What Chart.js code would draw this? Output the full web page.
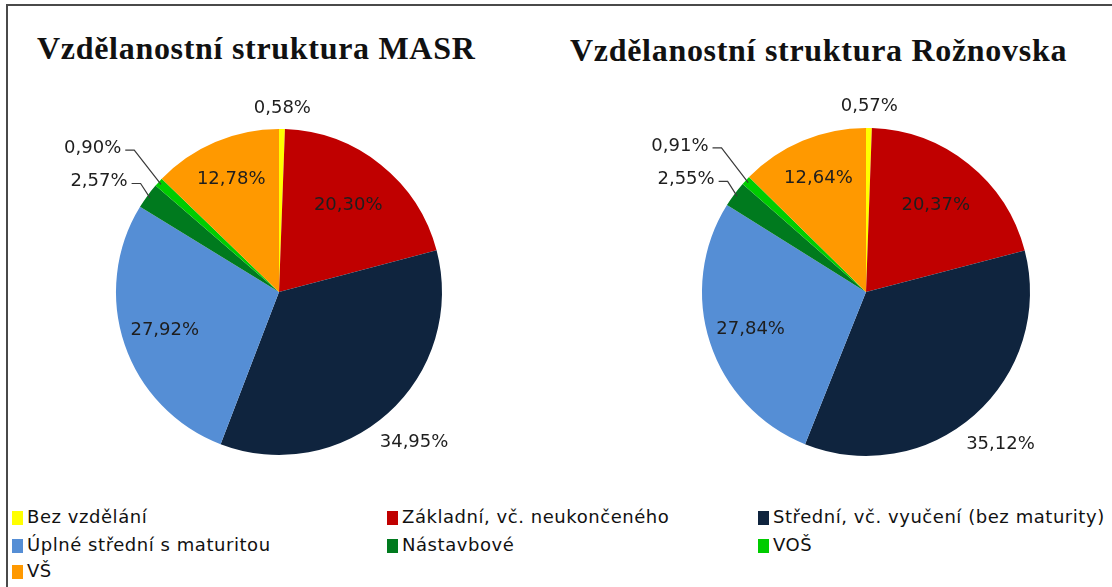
<!DOCTYPE html>
<html lang="cs">
<head>
    <meta charset="UTF-8">
    <title>Vzdělanostní struktura</title>
    <script src="https://cdn.jsdelivr.net/npm/chart.js"></script>
    <style>
        body {
            margin: 0;
            background: #fff;
            width: 1112px;
            height: 587px;
            overflow: hidden;
            position: relative;
            font-family: "DejaVu Sans", sans-serif;
        }

        .frame {
            position: absolute;
            left: 6px;
            top: 4px;
            width: 1200px;
            height: 700px;
            border-top: 2px solid #4a4a4a;
            border-left: 2px solid #4a4a4a;
        }

        .pie-box {
            position: absolute;
            top: 0;
            width: 556px;
            height: 490px;
        }

        .title {
            position: absolute;
            font-family: "Liberation Serif", serif;
            font-weight: bold;
            font-size: 32px;
            letter-spacing: 0.7px;
            color: #111;
            white-space: nowrap;
        }

        .legend-item {
            position: absolute;
            font-family: "DejaVu Sans", sans-serif;
            font-size: 18px;
            letter-spacing: 0.55px;
            color: #111;
            white-space: nowrap;
            line-height: 20px;
        }

        .legend-item span.sw {
            display: inline-block;
            width: 11px;
            height: 14px;
            margin-right: 4px;
            vertical-align: -2px;
        }
    </style>
</head>
<body>
    <div class="frame"></div>

    <div class="title" style="left:37px; top:30px;">Vzdělanostní struktura MASR</div>
    <div class="title" style="left:570px; top:32px;">Vzdělanostní struktura Rožnovska</div>

    <div class="pie-box" style="left:0;"><canvas id="pieMasr"></canvas></div>
    <div class="pie-box" style="left:556px;"><canvas id="pieRoznov"></canvas></div>

    <div id="legend"></div>

    <script>
        // Categories and values (percent)
        const categories = [
            'Bez vzdělání',
            'Základní, vč. neukončeného',
            'Střední, vč. vyučení (bez maturity)',
            'Úplné střední s maturitou',
            'Nástavbové',
            'VOŠ',
            'VŠ'
        ];
        const masrValues = [0.58, 20.30, 34.95, 27.92, 2.57, 0.90, 12.78];
        const roznovValues = [0.57, 20.37, 35.12, 27.84, 2.55, 0.91, 12.64];

        const sliceColors = ['#FFFF00', '#C00000', '#0F243E', '#558ED5', '#007A1E', '#00CC00', '#FF9900'];

        // How each label is placed: inside the slice, outside it, or outside with a leader line
        const labelPlacement = [
            { mode: 'out', k: 1.13 },
            { mode: 'in', k: 0.68 },
            { mode: 'out', k: 1.24 },
            { mode: 'in', k: 0.74 },
            { mode: 'leader', k: 1.15 },
            { mode: 'leader', k: 1.31 },
            { mode: 'in', k: 0.75 }
        ];

        const fmt = v => v.toFixed(2).replace('.', ',') + '%';

        const pieLabels = {
            id: 'pieLabels',
            afterDatasetsDraw(chart) {
                const ctx = chart.ctx;
                const meta = chart.getDatasetMeta(0);
                const values = chart.data.datasets[0].data;
                ctx.save();
                ctx.font = '18px "DejaVu Sans", sans-serif';
                ctx.textBaseline = 'middle';
                ctx.fillStyle = '#1e1e1e';
                meta.data.forEach((arc, i) => {
                    const p = arc.getProps(['x', 'y', 'startAngle', 'endAngle', 'outerRadius'], true);
                    const mid = (p.startAngle + p.endAngle) / 2;
                    const place = labelPlacement[i];
                    const lx = p.x + Math.cos(mid) * p.outerRadius * place.k;
                    const ly = p.y + Math.sin(mid) * p.outerRadius * place.k;
                    const text = fmt(values[i]);
                    if (place.mode === 'leader') {
                        ctx.textAlign = 'right';
                        ctx.fillText(text, lx, ly);
                        const ex = p.x + Math.cos(mid) * p.outerRadius * 0.98;
                        const ey = p.y + Math.sin(mid) * p.outerRadius * 0.98;
                        ctx.beginPath();
                        ctx.strokeStyle = '#3a3a3a';
                        ctx.lineWidth = 1.2;
                        ctx.moveTo(lx + 4, ly + 2);
                        ctx.lineTo(lx + 13, ly + 2);
                        ctx.lineTo(ex, ey);
                        ctx.stroke();
                    } else {
                        ctx.textAlign = 'center';
                        ctx.fillText(text, lx, ly);
                    }
                });
                ctx.restore();
            }
        };

        function makePie(id, values, pad) {
            return new Chart(document.getElementById(id), {
                type: 'pie',
                data: {
                    labels: categories,
                    datasets: [{
                        data: values,
                        backgroundColor: sliceColors,
                        borderWidth: 0,
                        hoverOffset: 0,
                        offset: 0
                    }]
                },
                options: {
                    responsive: true,
                    maintainAspectRatio: false,
                    animation: false,
                    events: [],
                    layout: { padding: pad },
                    plugins: {
                        legend: { display: false },
                        tooltip: { enabled: false }
                    }
                },
                plugins: [pieLabels]
            });
        }

        // chart area: pie 1 centred at (279,292) r=163, pie 2 at (310,292) r=164 within its box
        makePie('pieMasr', masrValues, { left: 116, top: 129, right: 114, bottom: 35 });
        makePie('pieRoznov', roznovValues, { left: 146, top: 128, right: 82, bottom: 34 });

        // Legend, three columns
        const legendCols = [12, 387, 758];
        const legendRows = [507, 535, 561];
        const legend = document.getElementById('legend');
        categories.forEach((name, i) => {
            const item = document.createElement('div');
            item.className = 'legend-item';
            item.style.left = legendCols[i % 3] + 'px';
            item.style.top = legendRows[Math.floor(i / 3)] + 'px';
            item.innerHTML = '<span class="sw" style="background:' + sliceColors[i] + '"></span>' + name;
            legend.appendChild(item);
        });
    </script>
</body>
</html>
